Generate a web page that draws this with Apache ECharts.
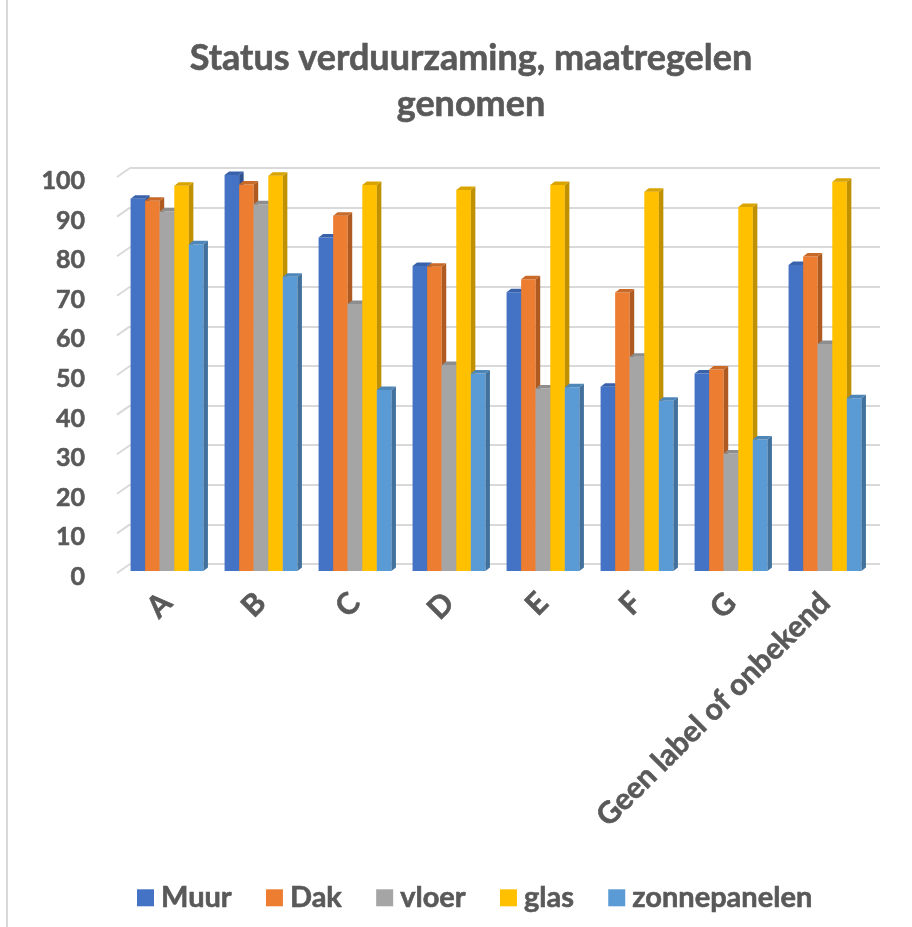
<!DOCTYPE html>
<html>
<head>
<meta charset="utf-8">
<script src="https://cdn.jsdelivr.net/npm/echarts@6/dist/echarts.min.js"></script>
<style>
  html, body { margin: 0; padding: 0; background: #fff; }
  #chart { width: 912px; height: 927px; }
</style>
</head>
<body>
<div id="chart"></div>
<script>
const categories = ["A", "B", "C", "D", "E", "F", "G", "Geen label of onbekend"];
const muur = [94, 100, 84.2, 77, 70.4, 46.5, 49.9, 77.3];
const dak = [93.5, 97.6, 89.7, 76.8, 73.7, 70.3, 50.9, 79.4];
const vloer = [90.8, 92.6, 67.4, 52, 46.1, 54.1, 29.7, 57.3];
const glas = [97.3, 99.8, 97.5, 96.2, 97.5, 95.8, 91.9, 98.3];
const zonnepanelen = [82.5, 74.3, 45.7, 49.9, 46.4, 43, 33.2, 43.6];
const yTicks = [0, 10, 20, 30, 40, 50, 60, 70, 80, 90, 100];

const seriesNames = ["Muur", "Dak", "vloer", "glas", "zonnepanelen"];
const seriesValues = [muur, dak, vloer, glas, zonnepanelen];
const frontColors = ["#4472C4", "#ED7D31", "#A5A5A5", "#FFC000", "#5B9BD5"];
const sideColors = ["#2F528F", "#AE5A21", "#7B7B7B", "#BF9000", "#41719C"];
const topColors = ["#3A62AB", "#C96A29", "#8E8E8E", "#D9A300", "#4E86B8"];

const FONT = "Lato, 'Open Sans', sans-serif";
const TXT = "#595959";

const chart = echarts.init(document.getElementById("chart"));

function barRender(idx) {
  return function (params, api) {
    const cat = api.value(0);
    const v = api.value(1);
    const base = api.coord([cat, 0]);
    const top = api.coord([cat, v]);
    const band = api.size([1, 0])[0];
    const w = band * 0.155;
    const x0 = base[0] - w * 2.5 + idx * w;
    const dx = 4.5, dy = 3.5;
    return {
      type: "group",
      children: [
        { type: "rect", shape: { x: x0, y: top[1], width: w, height: base[1] - top[1] },
          style: { fill: frontColors[idx] } },
        { type: "polygon", shape: { points: [[x0 + w, top[1]], [x0 + w + dx, top[1] - dy], [x0 + w + dx, base[1] - dy], [x0 + w, base[1]]] },
          style: { fill: sideColors[idx] } },
        { type: "polygon", shape: { points: [[x0, top[1]], [x0 + dx, top[1] - dy], [x0 + w + dx, top[1] - dy], [x0 + w, top[1]]] },
          style: { fill: topColors[idx] } }
      ]
    };
  };
}

const barSeries = seriesNames.map(function (name, i) {
  return {
    name: name,
    type: "custom",
    xAxisIndex: 0,
    yAxisIndex: 0,
    itemStyle: { color: frontColors[i] },
    renderItem: barRender(i),
    data: seriesValues[i].map(function (v, j) { return [j, v]; }),
    z: 3
  };
});

// small diagonal ticks on the left wall
barSeries.push({
  name: "wall",
  type: "custom",
  xAxisIndex: 0,
  yAxisIndex: 0,
  silent: true,
  z: 1,
  renderItem: function (params, api) {
    const p = api.coord([0, api.value(1)]);
    const x = params.coordSys.x;
    return {
      type: "line",
      shape: { x1: x - 3, y1: p[1] + 2, x2: x + 10, y2: p[1] - 7 },
      style: { stroke: "#d9d9d9", lineWidth: 2 }
    };
  },
  data: yTicks.map(function (v) { return [0, v]; })
});

const boldText = { fontFamily: FONT, fontWeight: "bold", color: TXT, textBorderColor: TXT, textBorderWidth: 0.6 };

const option = {
  animation: false,
  backgroundColor: "#fff",
  title: {
    text: "Status verduurzaming, maatregelen\ngenomen",
    left: 466,
    top: 30,
    textAlign: "center",
    textStyle: Object.assign({}, boldText, { fontSize: 36, lineHeight: 46 })
  },
  graphic: [
    { type: "rect", shape: { x: 6, y: 0, width: 2, height: 927 }, style: { fill: "#d9d9d9" }, silent: true }
  ],
  legend: {
    data: seriesNames,
    left: 132,
    top: 878,
    itemWidth: 17,
    itemHeight: 17,
    itemGap: 34,
    icon: "rect",
    textStyle: Object.assign({}, boldText, { fontSize: 29, padding: [0, 0, 0, 2] })
  },
  grid: [
    { left: 120, right: 40, top: 175, bottom: 356 },
    { left: 130, right: 32, top: 168, bottom: 363 }
  ],
  xAxis: [
    {
      type: "category",
      gridIndex: 0,
      data: categories,
      axisLine: { show: false },
      axisTick: { show: false },
      axisLabel: Object.assign({}, boldText, { rotate: 45, margin: 27, fontSize: 30, interval: 0 })
    },
    { type: "value", gridIndex: 1, min: 0, max: 1, show: false }
  ],
  yAxis: [
    {
      type: "value",
      gridIndex: 0,
      min: 0,
      max: 100,
      interval: 10,
      splitLine: { show: false },
      axisLine: { show: false },
      axisTick: { show: false },
      axisLabel: Object.assign({}, boldText, { margin: 35, fontSize: 25, verticalAlign: "top", lineHeight: 12 })
    },
    {
      type: "value",
      gridIndex: 1,
      min: 0,
      max: 100,
      interval: 10,
      axisLine: { show: false },
      axisTick: { show: false },
      axisLabel: { show: false },
      splitLine: { show: true, lineStyle: { color: "#d9d9d9", width: 2 } }
    }
  ],
  series: barSeries
};

chart.setOption(option);
</script>
</body>
</html>
